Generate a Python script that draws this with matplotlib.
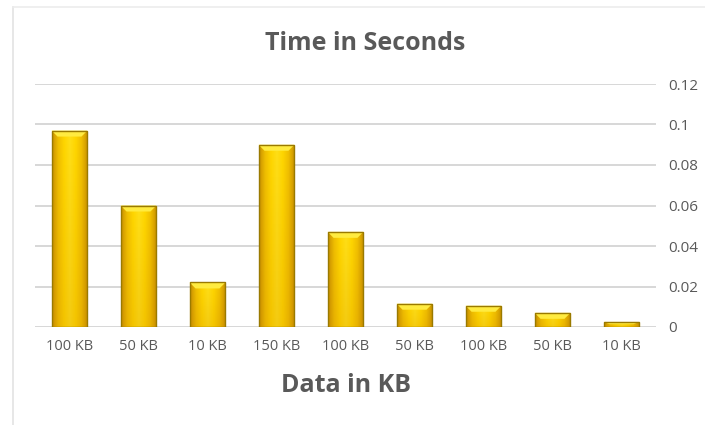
import matplotlib.pyplot as plt
import numpy as np
from matplotlib.colors import LinearSegmentedColormap
from matplotlib.patches import Polygon, Rectangle

plt.rcParams['font.family'] = ['Open Sans', 'DejaVu Sans']

# data
sizes = ['100 KB', '50 KB', '10 KB', '150 KB', '100 KB', '50 KB', '100 KB', '50 KB', '10 KB']
seconds = [0.097, 0.060, 0.022, 0.090, 0.047, 0.0115, 0.0105, 0.007, 0.0025]
yticks = [0, 0.02, 0.04, 0.06, 0.08, 0.1, 0.12]
ytick_labels = ['0', '0.02', '0.04', '0.06', '0.08', '0.1', '0.12']

text_grey = '#595959'
grid_grey = '#d4d4d4'

fig = plt.figure(figsize=(7.05, 4.25), dpi=100)
fig.patch.set_facecolor('white')
ax = fig.add_axes([35 / 705, 1 - 327 / 425, 621 / 705, 243 / 425])

# outer chart frame (left and top edges visible)
fig.add_artist(plt.Line2D([13 / 705, 13 / 705], [0, 1 - 7 / 425],
                          color='#e3e3e3', lw=1.2, transform=fig.transFigure))
fig.add_artist(plt.Line2D([13 / 705, 1], [1 - 7 / 425, 1 - 7 / 425],
                          color='#ececec', lw=1.2, transform=fig.transFigure))

x = np.arange(len(sizes))
width = 0.52
ax.set_xlim(-0.5, len(sizes) - 0.5)
ax.set_ylim(0, 0.12)

for yv in yticks:
    ax.axhline(yv, color=grid_grey, lw=1.3, zorder=0)

# golden gradient used inside each bar
gold = LinearSegmentedColormap.from_list(
    'gold', ['#c99200', '#f0bf00', '#ffd600', '#ffdf18', '#ffd600', '#f0bf00', '#c99200'])
gx = np.linspace(0, 1, 64)
grad = np.tile(gx, (64, 1))

bars = ax.bar(x, seconds, width=width, color='none', edgecolor='none', zorder=2)
px_x = 1 / 69.0
px_y = 0.12 / 243.0
for rect, h in zip(bars, seconds):
    x0 = rect.get_x()
    w = rect.get_width()
    im = ax.imshow(grad, cmap=gold, extent=(x0, x0 + w, 0, h), aspect='auto',
                   zorder=2, interpolation='bilinear')
    im.set_clip_path(rect)
    # darker base towards the bottom
    shade = np.linspace(0.18, 0, 64)[:, None] * np.ones((64, 2))
    ax.imshow(np.dstack([np.full_like(shade, 0.75), np.full_like(shade, 0.45),
                         np.zeros_like(shade), shade]),
              extent=(x0, x0 + w, 0, h), aspect='auto', zorder=2.1,
              origin='lower', interpolation='bilinear')
    # bevelled top
    dy = min(6 * px_y, h * 0.45)
    dx = 6 * px_x
    top = Polygon([(x0, h), (x0 + w, h), (x0 + w - dx, h - dy), (x0 + dx, h - dy)],
                  closed=True, facecolor='#ffeb40', edgecolor='none', zorder=3)
    ax.add_patch(top)
    ax.add_patch(Rectangle((x0, 0), w, h, facecolor='none',
                           edgecolor='#9a7a00', lw=1.0, zorder=4))

ax.set_xticks(x)
ax.set_xticklabels(sizes, fontsize=10.5, color=text_grey)
ax.yaxis.tick_right()
ax.set_yticks(yticks)
ax.set_yticklabels(ytick_labels, fontsize=11, color=text_grey)
ax.tick_params(axis='both', length=0)
ax.tick_params(axis='x', pad=9)
ax.tick_params(axis='y', pad=9)
for s in ax.spines.values():
    s.set_visible(False)
ax.set_facecolor('none')

fig.text(365 / 705, 1 - 43 / 425, 'Time in Seconds', ha='center', va='center',
         fontsize=18, fontweight='bold', color=text_grey)
fig.text(346 / 705, 1 - 386 / 425, 'Data in KB', ha='center', va='center',
         fontsize=18, fontweight='bold', color=text_grey)

fig.savefig('out.png', dpi=100)
